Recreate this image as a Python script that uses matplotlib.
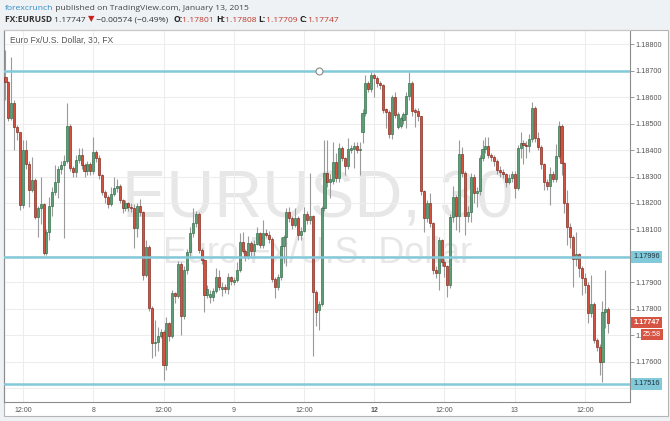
import numpy as np
import matplotlib
matplotlib.use('Agg')
import matplotlib.pyplot as plt
import matplotlib.transforms as mtransforms
from matplotlib.patches import Rectangle

plt.rcParams['font.family'] = ['Liberation Sans', 'DejaVu Sans']

# ---------------- data (EURUSD, 30 min bars, Jan 7 09:00 -> Jan 13) ----------------
opens = [1.18676, 1.18657, 1.18521, 1.18578, 1.18487, 1.18468, 1.18192, 1.18400, 1.18347, 1.18249,
         1.18287, 1.18147, 1.18181, 1.18196, 1.18010, 1.18090, 1.18189, 1.18242, 1.18280, 1.18328,
         1.18343, 1.18359, 1.18491, 1.18332, 1.18317, 1.18362, 1.18381, 1.18343, 1.18320, 1.18347,
         1.18320, 1.18393, 1.18370, 1.18306, 1.18242, 1.18223, 1.18196, 1.18234, 1.18257, 1.18265,
         1.18211, 1.18181, 1.18200, 1.18185, 1.18180, 1.18106, 1.18189, 1.18166, 1.17928, 1.18034,
         1.17802, 1.17671, 1.17675, 1.17697, 1.17712, 1.17587, 1.17746, 1.17697, 1.17859, 1.17848,
         1.17969, 1.17772, 1.17946, 1.18015, 1.18087, 1.18125, 1.18159, 1.18022, 1.17984, 1.17851,
         1.17845, 1.17845, 1.17867, 1.17920, 1.17875, 1.17882, 1.17875, 1.17920, 1.17900, 1.17910,
         1.17946, 1.18052, 1.18018, 1.17995, 1.18048, 1.18018, 1.18045, 1.18087, 1.18041, 1.18087,
         1.18080, 1.18064, 1.17913, 1.17882, 1.17920, 1.18037, 1.18071, 1.18166, 1.18144, 1.18117,
         1.18144, 1.18079, 1.18095, 1.18159, 1.18136, 1.18150, 1.17863, 1.17795, 1.17818, 1.18181,
         1.18313, 1.18280, 1.18285, 1.18355, 1.18294, 1.18408, 1.18370, 1.18340, 1.18400, 1.18404,
         1.18415, 1.18400, 1.18468, 1.18540, 1.18653, 1.18630, 1.18684, 1.18672, 1.18654, 1.18646,
         1.18555, 1.18545, 1.18461, 1.18601, 1.18487, 1.18490, 1.18514, 1.18536, 1.18604, 1.18653,
         1.18552, 1.18548, 1.18528, 1.18245, 1.18144, 1.18200, 1.18125, 1.17946, 1.17935, 1.18060,
         1.17977, 1.17960, 1.17890, 1.18147, 1.18223, 1.18151, 1.18385, 1.18313, 1.18151, 1.18166,
         1.18298, 1.18238, 1.18245, 1.18370, 1.18404, 1.18415, 1.18381, 1.18375, 1.18359, 1.18325,
         1.18318, 1.18310, 1.18280, 1.18295, 1.18310, 1.18257, 1.18408, 1.18427, 1.18420, 1.18415,
         1.18442, 1.18559, 1.18446, 1.18411, 1.18347, 1.18280, 1.18265, 1.18310, 1.18291, 1.18378,
         1.18491, 1.18351, 1.18200, 1.18110, 1.18071, 1.17988, 1.18007, 1.17954, 1.17916, 1.17890,
         1.17784, 1.17818, 1.17682, 1.17656, 1.17600, 1.17788, 1.17801]
highs = [1.18778, 1.18660, 1.18752, 1.18590, 1.18495, 1.18470, 1.18438, 1.18438, 1.18360, 1.18374,
         1.18295, 1.18190, 1.18298, 1.18200, 1.18100, 1.18223, 1.18260, 1.18343, 1.18340, 1.18360,
         1.18380, 1.18578, 1.18500, 1.18340, 1.18380, 1.18408, 1.18408, 1.18350, 1.18360, 1.18355,
         1.18449, 1.18400, 1.18380, 1.18310, 1.18250, 1.18230, 1.18260, 1.18298, 1.18290, 1.18270,
         1.18215, 1.18210, 1.18205, 1.18200, 1.18195, 1.18200, 1.18215, 1.18170, 1.18060, 1.18040,
         1.17810, 1.17758, 1.17730, 1.17725, 1.17720, 1.17770, 1.17750, 1.17870, 1.17865, 1.17980,
         1.17975, 1.17960, 1.18025, 1.18110, 1.18181, 1.18170, 1.18165, 1.18030, 1.17990, 1.17890,
         1.17870, 1.17880, 1.17954, 1.17947, 1.17900, 1.17895, 1.17935, 1.17925, 1.17920, 1.17977,
         1.18087, 1.18090, 1.18025, 1.18075, 1.18055, 1.18060, 1.18110, 1.18090, 1.18135, 1.18100,
         1.18095, 1.18070, 1.17920, 1.17930, 1.18071, 1.18080, 1.18181, 1.18185, 1.18150, 1.18181,
         1.18150, 1.18110, 1.18185, 1.18170, 1.18313, 1.18155, 1.17870, 1.17830, 1.18190, 1.18438,
         1.18438, 1.18310, 1.18431, 1.18390, 1.18425, 1.18415, 1.18375, 1.18446, 1.18420, 1.18430,
         1.18430, 1.18430, 1.18555, 1.18684, 1.18660, 1.18695, 1.18690, 1.18680, 1.18660, 1.18650,
         1.18560, 1.18550, 1.18610, 1.18620, 1.18545, 1.18530, 1.18545, 1.18620, 1.18695, 1.18660,
         1.18560, 1.18560, 1.18530, 1.18250, 1.18210, 1.18238, 1.18130, 1.17960, 1.18070, 1.18065,
         1.17990, 1.17965, 1.18160, 1.18265, 1.18230, 1.18438, 1.18410, 1.18320, 1.18190, 1.18313,
         1.18310, 1.18260, 1.18380, 1.18438, 1.18450, 1.18449, 1.18390, 1.18380, 1.18365, 1.18340,
         1.18330, 1.18315, 1.18310, 1.18320, 1.18320, 1.18420, 1.18468, 1.18440, 1.18435, 1.18460,
         1.18582, 1.18565, 1.18470, 1.18420, 1.18350, 1.18290, 1.18336, 1.18320, 1.18423, 1.18510,
         1.18500, 1.18355, 1.18249, 1.18125, 1.18080, 1.18090, 1.18011, 1.17960, 1.17935, 1.17900,
         1.17928, 1.17825, 1.17690, 1.17665, 1.17830, 1.17946, 1.17808]
lows = [1.18589, 1.18510, 1.18515, 1.18400, 1.18440, 1.18173, 1.18180, 1.18330, 1.18185, 1.18240,
        1.18140, 1.18071, 1.18120, 1.18003, 1.18005, 1.18060, 1.18150, 1.18230, 1.18220, 1.18310,
        1.18068, 1.18350, 1.18320, 1.18300, 1.18300, 1.18350, 1.18330, 1.18300, 1.18305, 1.18305,
        1.18310, 1.18355, 1.18290, 1.18230, 1.18200, 1.18180, 1.18190, 1.18225, 1.18240, 1.18200,
        1.18162, 1.18170, 1.18170, 1.18165, 1.18030, 1.18071, 1.18150, 1.17909, 1.17920, 1.17790,
        1.17614, 1.17620, 1.17640, 1.17690, 1.17531, 1.17570, 1.17680, 1.17690, 1.17820, 1.17840,
        1.17701, 1.17760, 1.17930, 1.18000, 1.18070, 1.18110, 1.18010, 1.17970, 1.17788, 1.17840,
        1.17820, 1.17830, 1.17860, 1.17870, 1.17850, 1.17860, 1.17855, 1.17890, 1.17890, 1.17900,
        1.17940, 1.18010, 1.17980, 1.17990, 1.18000, 1.18000, 1.18040, 1.18030, 1.18030, 1.18070,
        1.18050, 1.17900, 1.17841, 1.17870, 1.17910, 1.17973, 1.17960, 1.18130, 1.18100, 1.18110,
        1.18060, 1.18060, 1.18090, 1.18120, 1.18120, 1.17620, 1.17734, 1.17720, 1.17810, 1.18170,
        1.18260, 1.18219, 1.18270, 1.18280, 1.18280, 1.18360, 1.18306, 1.18330, 1.18390, 1.18332,
        1.18390, 1.18306, 1.18427, 1.18530, 1.18620, 1.18620, 1.18601, 1.18640, 1.18630, 1.18540,
        1.18484, 1.18445, 1.18442, 1.18520, 1.18480, 1.18485, 1.18500, 1.18484, 1.18590, 1.18530,
        1.18487, 1.18510, 1.18230, 1.18090, 1.18130, 1.18110, 1.17930, 1.17915, 1.17871, 1.17960,
        1.17920, 1.17845, 1.17880, 1.18130, 1.18098, 1.18090, 1.18300, 1.18079, 1.18130, 1.18128,
        1.18200, 1.18185, 1.18230, 1.18360, 1.18390, 1.18370, 1.18360, 1.18340, 1.18310, 1.18300,
        1.18295, 1.18260, 1.18270, 1.18280, 1.18219, 1.18250, 1.18370, 1.18347, 1.18370, 1.18393,
        1.18430, 1.18430, 1.18400, 1.18330, 1.18249, 1.18250, 1.18192, 1.18280, 1.18280, 1.18370,
        1.18306, 1.18162, 1.18041, 1.18030, 1.17882, 1.17960, 1.17920, 1.17852, 1.17860, 1.17746,
        1.17770, 1.17670, 1.17640, 1.17550, 1.17523, 1.17727, 1.17709]
closes = [1.18657, 1.18521, 1.18578, 1.18487, 1.18468, 1.18192, 1.18400, 1.18347, 1.18249, 1.18287,
          1.18147, 1.18181, 1.18196, 1.18010, 1.18090, 1.18189, 1.18242, 1.18280, 1.18328, 1.18343,
          1.18359, 1.18491, 1.18332, 1.18317, 1.18362, 1.18381, 1.18343, 1.18320, 1.18347, 1.18320,
          1.18393, 1.18370, 1.18306, 1.18242, 1.18223, 1.18196, 1.18234, 1.18257, 1.18265, 1.18211,
          1.18181, 1.18200, 1.18185, 1.18180, 1.18106, 1.18189, 1.18166, 1.17928, 1.18034, 1.17802,
          1.17671, 1.17675, 1.17697, 1.17712, 1.17587, 1.17746, 1.17697, 1.17859, 1.17848, 1.17969,
          1.17772, 1.17946, 1.18015, 1.18087, 1.18125, 1.18159, 1.18022, 1.17984, 1.17851, 1.17874,
          1.17855, 1.17867, 1.17920, 1.17882, 1.17882, 1.17875, 1.17920, 1.17905, 1.17910, 1.17946,
          1.18052, 1.18018, 1.17995, 1.18048, 1.18018, 1.18045, 1.18087, 1.18041, 1.18087, 1.18080,
          1.18064, 1.17913, 1.17882, 1.17920, 1.18037, 1.18071, 1.18166, 1.18144, 1.18117, 1.18144,
          1.18079, 1.18095, 1.18159, 1.18136, 1.18150, 1.17863, 1.17787, 1.17818, 1.18181, 1.18313,
          1.18280, 1.18290, 1.18355, 1.18294, 1.18408, 1.18370, 1.18340, 1.18404, 1.18408, 1.18415,
          1.18400, 1.18404, 1.18540, 1.18653, 1.18630, 1.18684, 1.18672, 1.18654, 1.18646, 1.18551,
          1.18545, 1.18461, 1.18601, 1.18532, 1.18536, 1.18521, 1.18536, 1.18604, 1.18653, 1.18548,
          1.18544, 1.18528, 1.18245, 1.18144, 1.18200, 1.18125, 1.17946, 1.17935, 1.18060, 1.17977,
          1.17960, 1.17890, 1.18147, 1.18223, 1.18151, 1.18385, 1.18313, 1.18151, 1.18166, 1.18298,
          1.18238, 1.18245, 1.18370, 1.18404, 1.18415, 1.18381, 1.18375, 1.18359, 1.18325, 1.18318,
          1.18310, 1.18280, 1.18295, 1.18310, 1.18257, 1.18408, 1.18427, 1.18420, 1.18415, 1.18442,
          1.18559, 1.18446, 1.18411, 1.18347, 1.18280, 1.18265, 1.18310, 1.18291, 1.18378, 1.18491,
          1.18351, 1.18200, 1.18110, 1.18071, 1.17988, 1.18007, 1.17954, 1.17916, 1.17890, 1.17784,
          1.17818, 1.17682, 1.17656, 1.17600, 1.17788, 1.17801, 1.17747]

h_levels = [1.18700, 1.17996, 1.17516]
h_labels = ['', '1.17996', '1.17516']
price_ticks = [1.175, 1.176, 1.177, 1.178, 1.179, 1.180, 1.181, 1.182,
               1.183, 1.184, 1.185, 1.186, 1.187, 1.188]
# labels as visible on the price scale (1.18000 / 1.17500 hidden behind line labels,
# 1.17700 mostly hidden behind the countdown box)
price_tick_labels = ['', '1.17600', '1.', '1.17800', '1.17900', '', '1.18100', '1.18200',
                     '1.18300', '1.18400', '1.18500', '1.18600', '1.18700', '1.18800']
time_tick_pos = [6, 30, 54, 78, 102, 126, 150, 174, 198]
time_tick_labels = ['12:00', '8', '12:00', '9', '12:00', '12', '12:00', '13', '12:00']
last_price = 1.17747
countdown = '25:58'
anchor_bar = 107

header1 = [('forexcrunch', '#2f8bc6', 'normal'),
           (' published on TradingView.com, January 13, 2015', '#444444', 'normal')]
header2 = [('FX:EURUSD ', '#333333', 'bold'), ('1.17747 ', '#333333', 'normal'),
           ('\u25BC', '#c8221c', 'normal'), (' \u22120.00574 (\u22120.49%)  ', '#333333', 'normal'),
           ('O:', '#222222', 'bold'), ('1.17801 ', '#c0392b', 'normal'),
           ('H:', '#222222', 'bold'), ('1.17808 ', '#c0392b', 'normal'),
           ('L:', '#222222', 'bold'), ('1.17709 ', '#c0392b', 'normal'),
           ('C:', '#222222', 'bold'), ('1.17747', '#c0392b', 'normal')]

# ---------------- figure ----------------
W, H = 670, 421
fig = plt.figure(figsize=(W / 100, H / 100), dpi=100)
fig.patch.set_facecolor('#eff2f5')
renderer = fig.canvas.get_renderer()

bg = fig.add_axes([0, 0, 1, 1])
bg.set_xlim(0, W)
bg.set_ylim(H, 0)
bg.axis('off')
bg.set_zorder(0)
bg.add_patch(Rectangle((4, 30), 664, 386, facecolor='white', edgecolor='#b5b5b5', lw=0.8))

hdr_family = ['Open Sans', 'DejaVu Sans']


def text_row(pieces, x0, x1, y):
    """lay pieces out left to right with one common font size spanning x0..x1"""
    arts = [bg.text(0, y, s, color=col, fontweight=fw, fontsize=10, ha='left', va='baseline',
                    family=hdr_family) for s, col, fw in pieces]
    widths = [a.get_window_extent(renderer=renderer).width for a in arts]
    scale = (x1 - x0) / sum(widths)
    x = x0
    for a, w in zip(arts, widths):
        a.set_fontsize(10 * scale)
        a.set_x(x)
        x += w * scale


def fit(s, x0, x1, y, **kw):
    t = bg.text(x0, y, s, fontsize=10, ha='left', va='baseline', **kw)
    w = t.get_window_extent(renderer=renderer).width
    t.set_fontsize(10 * (x1 - x0) / w)
    return t


text_row(header1, 5, 246, 10)
text_row(header2, 5, 339, 21.5)

# watermark + caption
fit('EURUSD, 30', 122, 513, 217, color='#e7e7e7')
fit('Euro Fx/U.S. Dollar', 163, 473, 263, color='#e7e7e7')
fit('Euro Fx/U.S. Dollar, 30, FX', 10, 113, 43, color='#555555')


# main price pane
def px_rect(l, t, r, b):
    return [l / W, 1 - b / H, (r - l) / W, (b - t) / H]


ax = fig.add_axes(px_rect(4, 30, 630, 402))
ax.set_zorder(1)
ax.set_facecolor('none')

o = np.array(opens)
c = np.array(closes)
hi = np.array(highs)
lo = np.array(lows)
idx = np.arange(len(c))
up = c >= o
face = np.where(up, '#5e9e76', '#d2513f')
edge = np.where(up, '#2c6a45', '#7e2418')

ax.vlines(idx, lo, hi, color='#9a9a9a', lw=0.8, zorder=2)
ax.bar(idx, np.maximum(np.abs(c - o), 0.00003), bottom=np.minimum(o, c), width=0.7,
       color=face, edgecolor=edge, linewidth=0.45, zorder=3)

for lv in h_levels:
    ax.axhline(lv, color='#82c9d9', lw=1.8, zorder=4)
ax.plot([anchor_bar], [h_levels[0]], marker='o', ms=5, mfc='white', mec='#8a8a8a', mew=0.8,
        zorder=5, clip_on=False)

ax.set_xlim(-0.51, 213.4)
ax.set_ylim(1.174476, 1.18854)
ax.set_yticks(price_ticks)
ax.set_yticklabels(price_tick_labels)
ax.yaxis.tick_right()
ax.set_xticks(time_tick_pos)
ax.set_xticklabels(time_tick_labels)
ax.get_xticklabels()[5].set_fontweight('bold')
ax.grid(True, color='#ededed', lw=0.8, zorder=0)
ax.set_axisbelow(True)
ax.tick_params(axis='y', direction='out', length=3, width=0.6, color='#888888',
               labelsize=5.2, labelcolor='#555555', pad=1)
ax.tick_params(axis='x', length=0, labelsize=5.0, labelcolor='#555555', pad=3.5)
for sp in ax.spines.values():
    sp.set_color('#8c8c8c')
    sp.set_linewidth(0.8)
ax.spines['top'].set_color('#c8c8c8')

# right-axis labels
trans = mtransforms.blended_transform_factory(bg.transData, ax.transData)
for lv, lab in zip(h_levels, h_labels):
    if lab:
        ax.text(633, lv, lab, transform=trans, ha='left', va='center', fontsize=5.2,
                color='#1e3540', clip_on=False, zorder=10,
                bbox=dict(boxstyle='square,pad=0.3', fc='#82c9d9', ec='none'))
ax.text(633, last_price, f'{last_price:.5f}', transform=trans, ha='left', va='center',
        fontsize=5.2, color='white', fontweight='bold', clip_on=False, zorder=11,
        bbox=dict(boxstyle='square,pad=0.3', fc='#d75442', ec='none'))
trans2 = trans + mtransforms.ScaledTranslation(0, -12 / 100, fig.dpi_scale_trans)
ax.text(643, last_price, countdown, transform=trans2, ha='left', va='center',
        fontsize=5.2, color='white', clip_on=False, zorder=11,
        bbox=dict(boxstyle='square,pad=0.3', fc='#d75442', ec='none'))

fig.savefig('out.png', dpi=100, facecolor=fig.get_facecolor())
